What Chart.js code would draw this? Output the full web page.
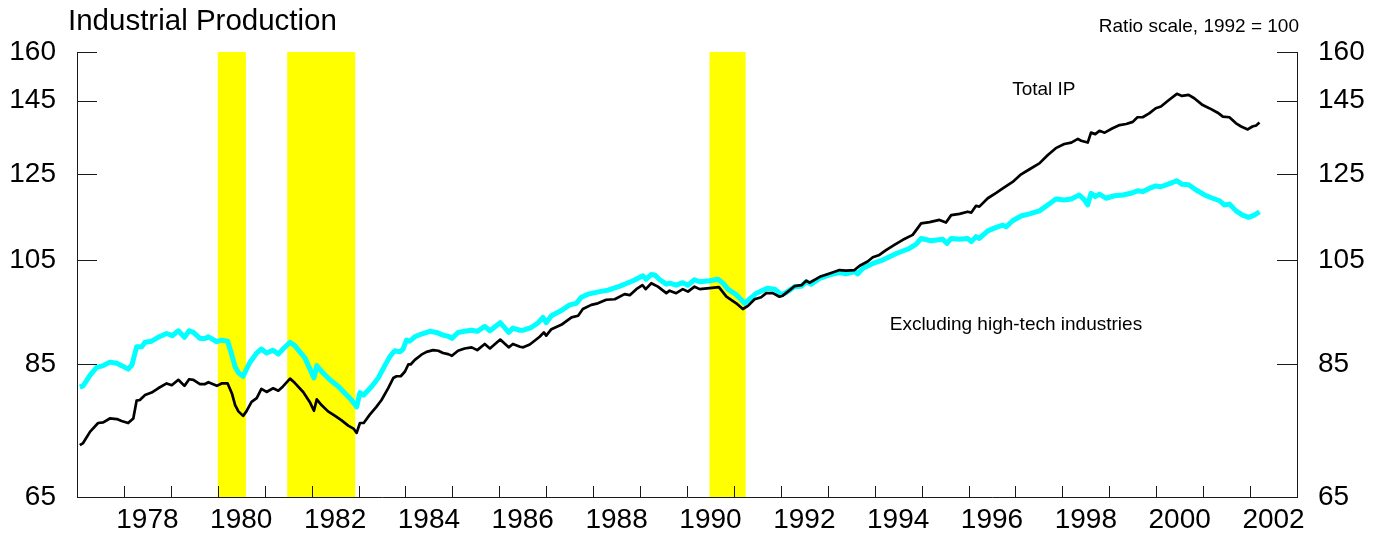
<!DOCTYPE html>
<html>
<head>
<meta charset="utf-8">
<title>Industrial Production</title>
<script src="https://cdn.jsdelivr.net/npm/chart.js@4.4.1/dist/chart.umd.min.js"></script>
<style>
  html, body { margin: 0; background: #fff; }
  #wrap { width: 1384px; height: 535px; }
</style>
</head>
<body>
<div id="wrap"><canvas id="ipChart" width="1384" height="535"></canvas></div>
<script>
const FONT = "'Liberation Sans', Arial, Helvetica, sans-serif";

// x axis: years, ticks at each Jan 1, labels every other year at mid-year
const tickYears = [1978, 1979, 1980, 1981, 1982, 1983, 1984, 1985, 1986, 1987, 1988, 1989, 1990,
  1991, 1992, 1993, 1994, 1995, 1996, 1997, 1998, 1999, 2000, 2001, 2002];
const labelYears = [1978, 1980, 1982, 1984, 1986, 1988, 1990, 1992, 1994, 1996, 1998, 2000, 2002];
const yTicks = [65, 85, 105, 125, 145, 160];

// recessions (shaded)
const recessionStart = [1980.0, 1981.48, 1990.48];
const recessionEnd = [1980.6, 1982.93, 1991.25];

// Total IP (1992 = 100)
const totalDates = [1977.06, 1977.13, 1977.28, 1977.45, 1977.56, 1977.70, 1977.85, 1977.95, 1978.09, 1978.20,
  1978.27, 1978.34, 1978.45, 1978.59, 1978.73, 1978.91, 1979.02, 1979.16, 1979.29, 1979.39,
  1979.48, 1979.62, 1979.73, 1979.80, 1979.98, 1980.08, 1980.21, 1980.30, 1980.37, 1980.44,
  1980.54, 1980.61, 1980.72, 1980.83, 1980.93, 1981.04, 1981.18, 1981.29, 1981.39, 1981.54,
  1981.64, 1981.82, 1981.96, 1982.05, 1982.11, 1982.21, 1982.35, 1982.50, 1982.64, 1982.78,
  1982.90, 1982.96, 1983.03, 1983.11, 1983.24, 1983.38, 1983.49, 1983.63, 1983.74, 1983.81,
  1983.90, 1983.99, 1984.06, 1984.11, 1984.20, 1984.34, 1984.45, 1984.59, 1984.70, 1984.80,
  1984.91, 1984.99, 1985.12, 1985.26, 1985.41, 1985.53, 1985.69, 1985.80, 1986.02, 1986.20,
  1986.29, 1986.44, 1986.51, 1986.65, 1986.86, 1986.95, 1987.00, 1987.11, 1987.32, 1987.54,
  1987.68, 1987.78, 1987.96, 1988.10, 1988.28, 1988.46, 1988.67, 1988.78, 1988.92, 1989.05,
  1989.12, 1989.24, 1989.38, 1989.56, 1989.63, 1989.77, 1989.91, 1990.02, 1990.16, 1990.27,
  1990.48, 1990.68, 1990.84, 1991.05, 1991.19, 1991.30, 1991.44, 1991.58, 1991.69, 1991.83,
  1991.97, 1992.04, 1992.19, 1992.29, 1992.44, 1992.54, 1992.61, 1992.83, 1993.04, 1993.25,
  1993.39, 1993.57, 1993.68, 1993.85, 1993.96, 1994.10, 1994.25, 1994.42, 1994.60, 1994.81,
  1994.99, 1995.17, 1995.38, 1995.52, 1995.63, 1995.81, 1995.98, 1996.06, 1996.16, 1996.23,
  1996.41, 1996.59, 1996.73, 1996.94, 1997.12, 1997.30, 1997.51, 1997.69, 1997.86, 1998.04,
  1998.19, 1998.33, 1998.40, 1998.54, 1998.61, 1998.70, 1998.79, 1998.90, 1999.07, 1999.22,
  1999.36, 1999.50, 1999.60, 1999.71, 1999.85, 1999.99, 2000.10, 2000.27, 2000.44, 2000.55,
  2000.69, 2000.81, 2000.99, 2001.13, 2001.31, 2001.42, 2001.56, 2001.70, 2001.81, 2001.95,
  2002.05, 2002.13, 2002.20];
const totalValues = [72.2, 72.5, 74.2, 75.5, 75.6, 76.2, 76.1, 75.8, 75.5, 76.2,
  79.0, 79.1, 79.9, 80.3, 81.0, 81.8, 81.5, 82.4, 81.4, 82.5,
  82.4, 81.7, 81.7, 82.0, 81.4, 81.8, 81.8, 80.2, 78.3, 77.3,
  76.6, 77.3, 78.8, 79.4, 80.9, 80.4, 81.0, 80.6, 81.3, 82.6,
  81.9, 80.4, 78.8, 77.4, 79.2, 78.3, 77.3, 76.6, 75.9, 75.1,
  74.6, 74.0, 75.5, 75.5, 76.8, 78.0, 79.1, 81.0, 82.7, 83.0,
  83.0, 83.8, 85.0, 85.0, 85.8, 86.7, 87.2, 87.5, 87.4, 87.0,
  86.8, 86.5, 87.4, 87.8, 88.0, 87.5, 88.6, 87.8, 89.4, 88.0,
  88.6, 88.1, 88.0, 88.5, 89.9, 90.7, 90.1, 91.3, 92.1, 93.5,
  93.8, 95.1, 95.9, 96.2, 96.9, 97.0, 98.0, 97.8, 99.0, 99.8,
  99.0, 100.2, 99.5, 98.2, 98.7, 98.2, 99.0, 98.5, 99.5, 99.0,
  99.2, 99.4, 97.5, 96.2, 95.1, 95.7, 97.0, 97.4, 98.2, 98.2,
  97.5, 97.7, 98.8, 99.6, 99.8, 100.7, 100.3, 101.5, 102.2, 102.9,
  102.8, 102.9, 103.8, 104.7, 105.6, 106.1, 107.2, 108.3, 109.4, 110.5,
  113.1, 113.4, 113.9, 113.3, 115.0, 115.3, 115.8, 115.6, 117.2, 117.0,
  119.0, 120.3, 121.4, 123.0, 124.9, 126.2, 127.7, 129.9, 131.7, 132.8,
  133.2, 134.2, 133.7, 133.2, 135.9, 135.5, 136.4, 135.9, 137.1, 138.0,
  138.3, 138.9, 140.2, 140.2, 141.3, 142.8, 143.3, 145.2, 147.0, 146.4,
  146.7, 145.7, 143.7, 142.8, 141.5, 140.4, 140.2, 138.5, 137.6, 136.8,
  137.6, 137.9, 138.7];

// Excluding high-tech industries (1992 = 100)
const exDates = [1977.06, 1977.13, 1977.28, 1977.42, 1977.56, 1977.70, 1977.85, 1977.95, 1978.09, 1978.17,
  1978.27, 1978.38, 1978.45, 1978.59, 1978.73, 1978.91, 1979.03, 1979.16, 1979.29, 1979.39,
  1979.48, 1979.62, 1979.73, 1979.80, 1979.98, 1980.08, 1980.21, 1980.28, 1980.37, 1980.44,
  1980.54, 1980.68, 1980.83, 1980.93, 1981.04, 1981.18, 1981.29, 1981.39, 1981.54, 1981.64,
  1981.86, 1982.05, 1982.11, 1982.25, 1982.39, 1982.57, 1982.71, 1982.85, 1982.96, 1983.03,
  1983.11, 1983.28, 1983.42, 1983.56, 1983.67, 1983.77, 1983.88, 1983.95, 1984.02, 1984.09,
  1984.20, 1984.34, 1984.52, 1984.66, 1984.80, 1984.91, 1984.99, 1985.12, 1985.26, 1985.41,
  1985.53, 1985.69, 1985.80, 1986.02, 1986.20, 1986.29, 1986.44, 1986.51, 1986.68, 1986.83,
  1986.93, 1987.00, 1987.11, 1987.32, 1987.50, 1987.64, 1987.75, 1987.89, 1988.14, 1988.32,
  1988.57, 1988.67, 1988.85, 1989.06, 1989.13, 1989.24, 1989.31, 1989.42, 1989.56, 1989.63,
  1989.77, 1989.91, 1990.02, 1990.16, 1990.27, 1990.48, 1990.66, 1990.77, 1990.87, 1991.05,
  1991.23, 1991.33, 1991.48, 1991.72, 1991.87, 1992.01, 1992.11, 1992.29, 1992.44, 1992.54,
  1992.65, 1992.83, 1993.04, 1993.25, 1993.39, 1993.57, 1993.64, 1993.75, 1993.96, 1994.17,
  1994.46, 1994.74, 1994.88, 1994.99, 1995.20, 1995.45, 1995.54, 1995.63, 1995.81, 1995.98,
  1996.06, 1996.16, 1996.23, 1996.41, 1996.59, 1996.73, 1996.80, 1996.94, 1997.12, 1997.30,
  1997.51, 1997.69, 1997.86, 1998.04, 1998.19, 1998.36, 1998.47, 1998.54, 1998.61, 1998.70,
  1998.79, 1998.93, 1999.11, 1999.29, 1999.46, 1999.60, 1999.71, 1999.85, 1999.99, 2000.10,
  2000.27, 2000.44, 2000.55, 2000.69, 2000.85, 2001.03, 2001.20, 2001.35, 2001.45, 2001.56,
  2001.70, 2001.84, 2001.97, 2002.09, 2002.20];
const exValues = [81.2, 81.4, 83.2, 84.5, 84.8, 85.4, 85.2, 84.8, 84.2, 84.9,
  88.1, 88.1, 88.9, 89.1, 89.8, 90.5, 90.1, 91.0, 89.8, 91.0,
  90.7, 89.6, 89.6, 89.9, 89.0, 89.3, 89.1, 87.2, 84.6, 83.6,
  83.0, 85.3, 87.0, 87.7, 87.0, 87.5, 86.8, 87.7, 88.9, 88.3,
  86.1, 82.7, 84.8, 83.5, 82.4, 81.3, 80.2, 79.1, 78.0, 80.3,
  79.9, 81.3, 82.7, 84.8, 86.4, 87.4, 87.2, 87.7, 89.3, 89.1,
  89.9, 90.4, 90.9, 90.7, 90.2, 90.0, 89.6, 90.7, 90.9, 91.1,
  90.9, 91.8, 91.0, 92.5, 90.7, 91.5, 91.1, 91.1, 91.6, 92.5,
  93.5, 92.5, 93.8, 94.8, 95.9, 96.2, 97.4, 98.0, 98.5, 98.8,
  99.6, 100.0, 100.7, 101.7, 101.0, 102.0, 101.9, 100.9, 100.0, 100.2,
  99.8, 100.3, 99.8, 100.9, 100.5, 100.7, 101.0, 100.2, 99.0, 97.9,
  96.2, 97.0, 98.2, 99.2, 99.0, 97.9, 98.3, 99.5, 99.6, 100.5,
  100.0, 101.2, 101.9, 102.4, 102.1, 102.6, 102.1, 103.3, 104.3, 105.0,
  106.4, 107.5, 108.4, 109.7, 109.2, 109.5, 108.6, 109.7, 109.5, 109.7,
  109.0, 110.1, 109.7, 111.4, 112.2, 112.7, 112.3, 113.7, 114.8, 115.3,
  116.0, 117.4, 118.8, 118.6, 118.8, 119.8, 118.6, 117.4, 120.2, 119.4,
  120.0, 119.0, 119.6, 119.8, 120.2, 120.8, 120.6, 121.4, 122.0, 121.8,
  122.5, 123.3, 122.4, 122.3, 121.0, 119.8, 119.0, 118.4, 117.4, 117.6,
  116.0, 115.0, 114.5, 115.0, 115.8];

// in-plot labels, placed in data coordinates
const noteTexts = ["Total IP", "Excluding high-tech industries"];
const noteYears = [1996.93, 1994.32];
const noteValues = [146.7, 91.1];

const axisColor = "#1a1a1a";

const decorations = {
  id: "decorations",
  beforeDraw(chart) {
    const { ctx, chartArea: a, scales: { x } } = chart;
    ctx.save();
    ctx.fillStyle = "#ffff00";
    recessionStart.forEach((s, i) => {
      const x0 = x.getPixelForValue(s);
      const x1 = x.getPixelForValue(recessionEnd[i]);
      ctx.fillRect(x0, a.top, x1 - x0, a.bottom - a.top);
    });
    ctx.restore();
  },
  afterDraw(chart) {
    const { ctx, chartArea: a, scales: { x, y } } = chart;
    ctx.save();
    ctx.strokeStyle = axisColor;
    ctx.lineWidth = 1;
    ctx.beginPath();
    // inward tick marks on the year axis
    tickYears.forEach(yr => {
      const px = Math.round(x.getPixelForValue(yr)) + 0.5;
      ctx.moveTo(px, a.bottom);
      ctx.lineTo(px, a.bottom - 11);
    });
    // inward tick marks on both value axes
    yTicks.forEach(v => {
      const py = Math.round(y.getPixelForValue(v)) + 0.5;
      ctx.moveTo(a.left, py);
      ctx.lineTo(a.left + 20, py);
      ctx.moveTo(a.right - 20, py);
      ctx.lineTo(a.right, py);
    });
    ctx.stroke();

    ctx.fillStyle = "#000";
    ctx.textBaseline = "alphabetic";
    ctx.textAlign = "left";
    ctx.font = "29.5px " + FONT;
    ctx.fillText("Industrial Production", a.left - 9, a.top - 22);

    ctx.font = "19px " + FONT;
    ctx.textAlign = "right";
    ctx.fillText("Ratio scale, 1992 = 100", a.right + 2, a.top - 20);

    ctx.textAlign = "left";
    noteTexts.forEach((t, i) => {
      ctx.fillText(t, x.getPixelForValue(noteYears[i]), y.getPixelForValue(noteValues[i]));
    });
    ctx.restore();
  }
};

const valueAxis = (position, width) => ({
  type: "logarithmic",
  position,
  min: 65,
  max: 160,
  afterBuildTicks: s => { s.ticks = yTicks.map(v => ({ value: v })); },
  afterFit: s => { s.width = width; },
  grid: { display: false, drawTicks: false },
  border: { display: true, color: axisColor, width: 1 },
  ticks: {
    color: "#000",
    padding: 21,
    font: { family: FONT, size: 28 },
    callback: v => String(v)
  }
});

new Chart(document.getElementById("ipChart"), {
  type: "line",
  data: {
    datasets: [
      {
        label: "Total IP",
        data: totalDates.map((d, i) => ({ x: d, y: totalValues[i] })),
        borderColor: "#000000",
        borderWidth: 2.7,
        pointRadius: 0,
        tension: 0,
        borderJoinStyle: "round",
        yAxisID: "y"
      },
      {
        label: "Excluding high-tech industries",
        data: exDates.map((d, i) => ({ x: d, y: exValues[i] })),
        borderColor: "#00ffff",
        borderWidth: 5,
        pointRadius: 0,
        tension: 0,
        borderJoinStyle: "round",
        yAxisID: "y"
      }
    ]
  },
  options: {
    responsive: false,
    animation: false,
    devicePixelRatio: 1,
    layout: { padding: { top: 52, left: 0, right: 0, bottom: 0 } },
    plugins: { legend: { display: false }, tooltip: { enabled: false } },
    scales: {
      x: {
        type: "linear",
        min: 1977,
        max: 2003,
        afterBuildTicks: s => { s.ticks = labelYears.map(yr => ({ value: yr + 0.5 })); },
        afterFit: s => { s.height = 38; },
        grid: { display: false, drawTicks: false },
        border: { display: true, color: axisColor, width: 1 },
        ticks: {
          color: "#000",
          padding: 6,
          maxRotation: 0,
          autoSkip: false,
          font: { family: FONT, size: 28 },
          callback: v => String(Math.floor(v))
        }
      },
      y: valueAxis("left", 77),
      y2: valueAxis("right", 87)
    }
  },
  plugins: [decorations]
});
</script>
</body>
</html>
